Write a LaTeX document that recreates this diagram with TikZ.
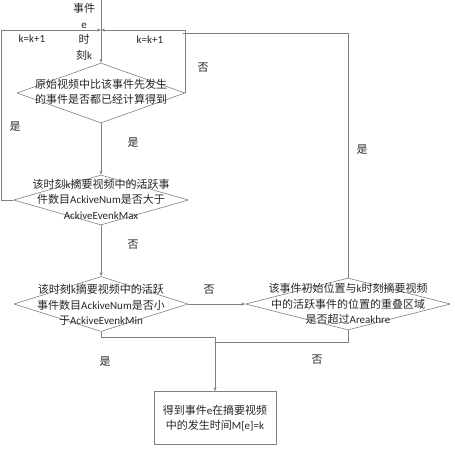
\documentclass[tikz,border=0pt]{standalone}
\usepackage{fontspec}
\setmainfont{Noto Sans CJK SC}
\newfontfamily\latfont{Carlito}
\newcommand{\en}[1]{{\latfont #1}}
\usetikzlibrary{shapes.geometric,arrows.meta}

\begin{document}
\begin{tikzpicture}[x=1pt,y=-1pt,line cap=round,line join=round,
  font=\fontsize{11}{15.5}\selectfont,
  flow/.style={draw=gray,line width=.6pt},
  arr/.style={flow,-{Stealth[length=4pt,width=3pt]}},
  decision/.style={diamond,draw=gray,line width=.6pt,inner sep=0pt},
  txt/.style={align=center,inner sep=0pt,text=black!85}]
  \useasboundingbox (0,0) rectangle (455,450);
  % decisions
  \node[decision,minimum width=168pt,minimum height=60pt] (d1) at (101,93) {};
  \node[decision,minimum width=175pt,minimum height=50pt] (d2) at (101,200) {};
  \node[decision,minimum width=174pt,minimum height=55pt] (d3) at (101,304) {};
  \node[decision,minimum width=205pt,minimum height=52pt] (d4) at (348,304) {};
  \node[draw=gray,line width=.6pt,minimum width=122pt,minimum height=53pt,
    align=center,text=black!85] (res) at (215,418)
    {得到事件\en{e}在摘要视频\\中的发生时间\en{M[e]=k}};
  \node[txt] (t1) at (101,92) {原始视频中比该事件先发生\\的事件是否都已经计算得到};
  \node[txt] (t2) at (101,199) {该时刻\en{k}摘要视频中的活跃事\\件数目\en{AckiveNum}是否大于\\\en{AckiveEvenkMax}};
  \node[txt] (t3) at (101,305) {该时刻\en{k}摘要视频中的活跃\\事件数目\en{AckiveNum}是否小\\于\en{AckiveEvenkMin}};
  \node[txt] (t4) at (348,304) {该事件初始位置与\en{k}时刻摘要视频\\中的活跃事件的位置的重叠区域\\是否超过\en{Areakhre}};
  \node[txt] (evt) at (84,32) {事件\\\en{e}\\时\\刻\en{k}};
  % connectors
  \coordinate (src) at (101,0);
  \coordinate (jn) at (101,30);
  \coordinate (rjn) at (183,33);
  \coordinate (bjn) at (215,342);
  \draw[arr] (src) -- (d1.north);
  \draw[arr] (d2.west) -- ++(-12,0) |- (jn);
  \draw[arr] (d1.east) |- (jn);
  \draw[flow] (d4.north) |- (rjn);
  \draw[arr] (d1.south) -- (d2.north);
  \draw[arr] (d2.south) -- (d3.north);
  \draw[arr] (d3.east) -- (d4.west);
  \draw[arr] (d3.south) -- ++(0,5) -| (res.north);
  \draw[flow] (d4.south) |- (bjn);
  % labels
  \node[txt] (k1) at (32,39) {\en{k=k+1}};
  \node[txt] (k2) at (150,40) {\en{k=k+1}};
  \node[txt] (y1) at (133,143) {是};
  \node[txt] (n1) at (203,68) {否};
  \node[txt] (y2) at (15,127) {是};
  \node[txt] (n2) at (133,245) {否};
  \node[txt] (n3) at (209,290) {否};
  \node[txt] (y3) at (105,362) {是};
  \node[txt] (y4) at (362,150) {是};
  \node[txt] (n4) at (317,360) {否};
\end{tikzpicture}
\end{document}
